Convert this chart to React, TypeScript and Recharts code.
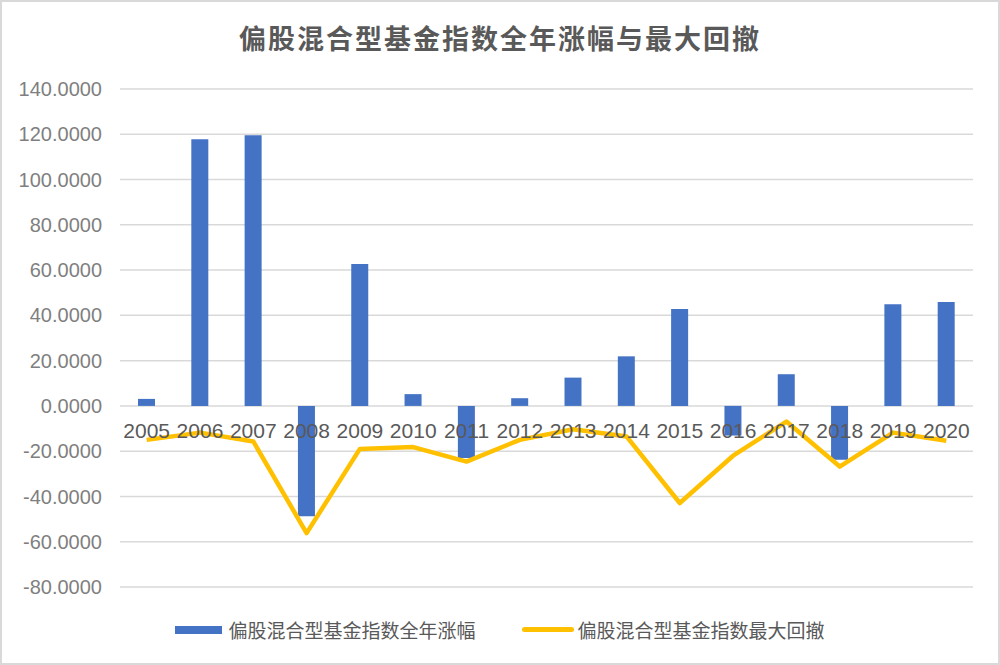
import React from "react";
import { ComposedChart, Bar, Line, XAxis, YAxis, CartesianGrid } from "recharts";

const years = ["2005", "2006", "2007", "2008", "2009", "2010", "2011", "2012", "2013", "2014", "2015", "2016", "2017", "2018", "2019", "2020"];
const annualReturn = [3.1, 117.8, 119.6, -48.8, 62.7, 5.2, -23.0, 3.4, 12.5, 21.9, 42.8, -13.1, 14.0, -23.8, 44.9, 45.9];
const maxDrawdown = [-15.0, -11.8, -15.7, -56.2, -19.0, -18.2, -24.6, -15.0, -10.3, -13.5, -42.9, -22.0, -6.9, -26.8, -11.8, -15.4];
const yTicks = [-80, -60, -40, -20, 0, 20, 40, 60, 80, 100, 120, 140];

const barName = "偏股混合型基金指数全年涨幅";
const lineName = "偏股混合型基金指数最大回撤";

const data = years.map((y, i) => ({ year: y, ret: annualReturn[i], dd: maxDrawdown[i] }));

const FONT = '"Liberation Sans", "Noto Sans CJK SC", sans-serif';
const CJK = '"Noto Sans CJK SC", sans-serif';

const W = 1000;
const H = 665;
const X_AXIS_H = 30;
const M = { top: 89, right: 27, bottom: 78 - X_AXIS_H, left: 0 };
const Y_MIN = -80;
const Y_MAX = 140;
const plotH = H - M.top - M.bottom - X_AXIS_H;
const zeroY = M.top + ((Y_MAX - 0) / (Y_MAX - Y_MIN)) * plotH;

function YearTick(props: { x?: number; payload?: { value: string } }) {
  return (
    <text x={props.x} y={zeroY + 32} textAnchor="middle" fill="#595959" fontSize={21} fontFamily={FONT}>
      {props.payload?.value}
    </text>
  );
}

function ChartLegend() {
  return (
    <div
      style={{
        position: "absolute",
        left: 0,
        top: 616,
        width: W,
        display: "flex",
        justifyContent: "center",
        alignItems: "center",
        fontFamily: CJK,
        fontSize: 19,
        color: "#595959",
      }}
    >
      <div style={{ display: "flex", alignItems: "center", marginRight: 46 }}>
        <span style={{ display: "inline-block", width: 47, height: 8, background: "#4472C4", marginRight: 6 }} />
        <span>{barName}</span>
      </div>
      <div style={{ display: "flex", alignItems: "center" }}>
        <span style={{ display: "inline-block", width: 52, height: 5, borderRadius: 3, background: "#FFC000", marginRight: 4 }} />
        <span>{lineName}</span>
      </div>
    </div>
  );
}

export default function App() {
  return (
    <div style={{ position: "absolute", left: 0, top: 0, width: W, height: H, background: "#fff" }}>
      <div
        style={{
          position: "absolute",
          left: 0,
          top: 18,
          width: W,
          textAlign: "center",
          fontFamily: CJK,
          fontWeight: 700,
          fontSize: 27,
          color: "#595959",
          letterSpacing: 2,
        }}
      >
        偏股混合型基金指数全年涨幅与最大回撤
      </div>
      <ComposedChart width={W} height={H} data={data} margin={M}>
        <CartesianGrid vertical={false} stroke="#d9d9d9" strokeWidth={1.5} />
        <XAxis dataKey="year" axisLine={false} tickLine={false} height={X_AXIS_H} tick={<YearTick />} interval={0} />
        <YAxis
          width={120}
          domain={[Y_MIN, Y_MAX]}
          ticks={yTicks}
          axisLine={false}
          tickLine={false}
          tickSize={0}
          tickMargin={18}
          tickFormatter={(v: number) => v.toFixed(4)}
          tick={{ fill: "#7f7f7f", fontSize: 20, fontFamily: FONT }}
          interval={0}
        />
        <Bar dataKey="ret" name={barName} fill="#4472C4" barSize={17} isAnimationActive={false} />
        <Line
          dataKey="dd"
          name={lineName}
          type="linear"
          stroke="#FFC000"
          strokeWidth={4.5}
          strokeLinejoin="round"
          dot={false}
          activeDot={false}
          isAnimationActive={false}
        />
      </ComposedChart>
      <ChartLegend />
      <div style={{ position: "absolute", left: 0, top: 0, width: W, height: H, boxSizing: "border-box", border: "2px solid #d9d9d9", pointerEvents: "none" }} />
    </div>
  );
}
